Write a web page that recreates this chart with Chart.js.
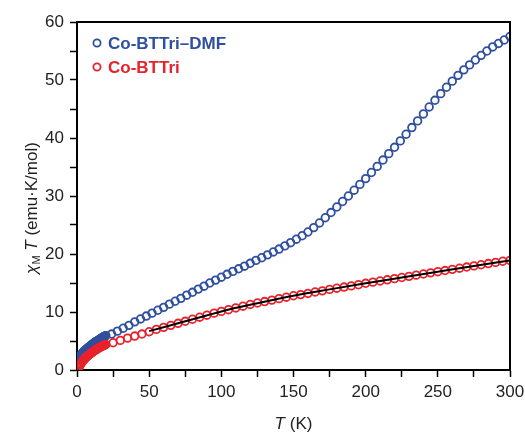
<!DOCTYPE html>
<html>
<head>
<meta charset="utf-8">
<script src="https://cdn.jsdelivr.net/npm/chart.js@4.4.1/dist/chart.umd.min.js"></script>
<style>
	html, body { margin: 0; padding: 0; background: #fff; }
	#wrap { width: 525px; height: 436px; }
</style>
</head>
<body>
<div id="wrap"><canvas id="mycanvas" width="525" height="436"></canvas></div>
<script>
// Co-BTTri-DMF: temperature (K) and chi_M T (emu K/mol)
var dmfTemps = [2, 2.5, 3, 3.5, 4, 4.5, 5, 5.5, 6, 6.5, 7, 7.5, 8, 8.5, 9, 9.5, 10, 10.5, 11, 11.5,
	12, 12.5, 13, 13.5, 14, 14.5, 15, 15.5, 16, 16.5, 17, 17.5, 18, 18.5, 19, 19.5, 20,
	24, 28, 32, 36, 40, 44, 48, 52, 56, 60, 64, 68, 72, 76, 80, 84, 88, 92, 96, 100,
	104, 108, 112, 116, 120, 124, 128, 132, 136, 140, 144, 148, 152, 156, 160, 164, 168, 172, 176, 180,
	184, 188, 192, 196, 200, 204, 208, 212, 216, 220, 224, 228, 232, 236, 240, 244, 248, 252, 256, 260,
	264, 268, 272, 276, 280, 284, 288, 292, 296, 300];
var dmfValues = [2.4, 2.55, 2.7, 2.85, 3.0, 3.12, 3.25, 3.37, 3.5, 3.6, 3.7, 3.8, 3.9, 4.0, 4.1, 4.2, 4.3, 4.4, 4.5, 4.6,
	4.7, 4.78, 4.86, 4.94, 5.02, 5.1, 5.18, 5.26, 5.34, 5.42, 5.5, 5.58, 5.65, 5.72, 5.79, 5.86, 5.93,
	6.2, 6.7, 7.2, 7.7, 8.3, 8.8, 9.3, 9.8, 10.3, 10.8, 11.35, 11.85, 12.35, 12.9, 13.4, 13.95, 14.45, 15.0, 15.5, 16.0,
	16.5, 17.0, 17.45, 17.9, 18.4, 18.9, 19.35, 19.85, 20.35, 20.85, 21.4, 21.95, 22.55, 23.15, 23.8, 24.55, 25.35, 26.25, 27.15, 28.1,
	29.05, 30.0, 31.0, 32.0, 33.0, 34.05, 35.1, 36.2, 37.3, 38.4, 39.5, 40.65, 41.8, 42.95, 44.15, 45.35, 46.5, 47.65, 48.75, 49.8,
	50.8, 51.75, 52.6, 53.45, 54.25, 55.0, 55.7, 56.3, 56.9, 57.5];

// Co-BTTri
var bttriTemps = [1.5, 2, 2.5, 3, 3.5, 4, 4.5, 5, 5.5, 6, 6.5, 7, 7.5, 8, 8.5, 9, 9.5, 10, 10.5, 11, 11.5,
	12, 12.5, 13, 13.5, 14, 14.5, 15, 15.5, 16, 16.5, 17, 17.5, 18, 18.5, 19, 19.5, 20,
	25, 30, 35, 40, 45, 50, 55, 60, 65, 70, 75, 80, 85, 90, 95, 100,
	105, 110, 115, 120, 125, 130, 135, 140, 145, 150, 155, 160, 165, 170, 175, 180,
	185, 190, 195, 200, 205, 210, 215, 220, 225, 230, 235, 240, 245, 250, 255, 260,
	265, 270, 275, 280, 285, 290, 295, 300];
var bttriValues = [0.5, 0.8, 1.0, 1.2, 1.4, 1.55, 1.7, 1.85, 2.0, 2.1, 2.22, 2.34, 2.45, 2.56, 2.66, 2.76, 2.86, 2.96, 3.05, 3.14, 3.23,
	3.32, 3.4, 3.48, 3.56, 3.64, 3.72, 3.8, 3.87, 3.94, 4.0, 4.06, 4.12, 4.18, 4.24, 4.3, 4.35, 4.4,
	4.7, 5.1, 5.5, 5.85, 6.2, 6.6, 7.0, 7.35, 7.7, 8.05, 8.4, 8.75, 9.1, 9.45, 9.8, 10.1,
	10.4, 10.7, 11.0, 11.3, 11.55, 11.8, 12.05, 12.3, 12.55, 12.8, 13.0, 13.2, 13.45, 13.65, 13.9, 14.1,
	14.3, 14.5, 14.7, 14.95, 15.15, 15.35, 15.55, 15.75, 15.95, 16.15, 16.35, 16.55, 16.75, 16.95, 17.15, 17.35,
	17.55, 17.75, 17.95, 18.15, 18.35, 18.55, 18.75, 18.9];

// fit curve through Co-BTTri (50-300 K)
var fitTemps = [50, 75, 100, 125, 150, 175, 200, 225, 250, 275, 300];
var fitValues = [6.7, 8.4, 10.1, 11.5, 12.8, 13.9, 14.95, 15.95, 16.95, 17.95, 18.9];

var seriesNames = ['Co-BTTri\u2013DMF', 'Co-BTTri'];
var xTickLabels = [0, 50, 100, 150, 200, 250, 300];
var yTickLabels = [0, 10, 20, 30, 40, 50, 60];

var blue = '#2f4f9f';
var red = '#e8222b';
var font = "'Liberation Sans', Arial, sans-serif";

function toPoints(xs, ys) {
	var pts = [];
	for (var i in xs) {
		pts.push({ x: xs[i], y: ys[i] });
	}
	return pts;
}

// frame, axis titles and legend
var extras = {
	id: 'extras',
	afterDraw: function (chart) {
		var ctx = chart.ctx;
		var a = chart.chartArea;
		ctx.save();
		ctx.strokeStyle = '#000';
		ctx.lineWidth = 2;
		ctx.beginPath();
		ctx.moveTo(a.left, a.top);
		ctx.lineTo(a.right, a.top);
		ctx.lineTo(a.right, a.bottom);
		ctx.stroke();

		// x title
		ctx.fillStyle = '#222';
		ctx.textBaseline = 'middle';
		var cx = (a.left + a.right) / 2;
		ctx.font = 'italic 17px ' + font;
		var w1 = ctx.measureText('T').width;
		ctx.font = '17px ' + font;
		var w2 = ctx.measureText(' (K)').width;
		var sx = cx - (w1 + w2) / 2;
		ctx.textAlign = 'left';
		ctx.font = 'italic 17px ' + font;
		ctx.fillText('T', sx, 424);
		ctx.font = '17px ' + font;
		ctx.fillText(' (K)', sx + w1, 424);

		// y title, rotated
		ctx.save();
		ctx.translate(32, 208);
		ctx.rotate(-Math.PI / 2);
		var parts = [
			{ t: '\u03c7', f: 'italic 17px ' + font, dy: 0 },
			{ t: 'M', f: '11px ' + font, dy: 5 },
			{ t: ' ', f: '17px ' + font, dy: 0 },
			{ t: 'T', f: 'italic 17px ' + font, dy: 0 },
			{ t: ' (emu\u00b7K/mol)', f: '17px ' + font, dy: 0 }
		];
		var total = 0;
		for (var i in parts) {
			ctx.font = parts[i].f;
			parts[i].w = ctx.measureText(parts[i].t).width;
			total += parts[i].w;
		}
		var px = -total / 2;
		for (var j in parts) {
			ctx.font = parts[j].f;
			ctx.fillText(parts[j].t, px, parts[j].dy);
			px += parts[j].w;
		}
		ctx.restore();

		// legend
		var colors = [blue, red];
		var ys = [43, 67];
		ctx.lineWidth = 1.8;
		ctx.font = 'bold 17px ' + font;
		for (var k = 0; k < 2; k++) {
			ctx.strokeStyle = colors[k];
			ctx.beginPath();
			ctx.arc(97, ys[k], 3.6, 0, Math.PI * 2);
			ctx.stroke();
			ctx.fillStyle = colors[k];
			ctx.fillText(seriesNames[k], 108, ys[k] + 1);
		}
		ctx.restore();
	}
};

var chartdata = {
	datasets: [
		{
			label: 'fit',
			data: toPoints(fitTemps, fitValues),
			borderColor: '#000',
			borderWidth: 2,
			pointRadius: 0,
			showLine: true,
			fill: false,
			cubicInterpolationMode: 'monotone'
		},
		{
			label: seriesNames[1],
			data: toPoints(bttriTemps, bttriValues),
			borderColor: red,
			backgroundColor: 'rgba(0,0,0,0)',
			pointRadius: 3.8,
			pointBorderWidth: 1.8,
			showLine: false
		},
		{
			label: seriesNames[0],
			data: toPoints(dmfTemps, dmfValues),
			borderColor: blue,
			backgroundColor: 'rgba(0,0,0,0)',
			pointRadius: 3.8,
			pointBorderWidth: 1.8,
			showLine: false
		}
	]
};

var ctx = document.getElementById('mycanvas');

var scatter = new Chart(ctx, {
	type: 'scatter',
	data: chartdata,
	plugins: [extras],
	options: {
		responsive: false,
		animation: false,
		layout: { padding: { top: 22, right: 15, left: 0, bottom: 0 } },
		plugins: {
			legend: { display: false },
			tooltip: { enabled: false }
		},
		scales: {
			x: {
				type: 'linear',
				min: 0,
				max: 300,
				border: { color: '#000', width: 2 },
				grid: { drawOnChartArea: false, drawTicks: true, tickLength: 7, tickColor: '#000', tickWidth: 1.5 },
				ticks: {
					stepSize: 25,
					padding: 5,
					color: '#222',
					font: { family: font, size: 17 },
					maxRotation: 0,
					autoSkip: false,
					callback: function (v) { return xTickLabels.indexOf(v) >= 0 ? v : ''; }
				},
				afterFit: function (scale) {
					scale.height = 66;
					// let the 300 label run into the right margin
					scale.paddingRight = 0;
					scale.paddingLeft = 0;
				}
			},
			y: {
				type: 'linear',
				min: 0,
				max: 60,
				border: { color: '#000', width: 2 },
				grid: { drawOnChartArea: false, drawTicks: true, tickLength: 7, tickColor: '#000', tickWidth: 1.5 },
				ticks: {
					stepSize: 5,
					padding: 6,
					color: '#222',
					font: { family: font, size: 17 },
					autoSkip: false,
					callback: function (v) { return yTickLabels.indexOf(v) >= 0 ? v : ''; }
				},
				afterFit: function (scale) { scale.width = 77; }
			}
		}
	}
});
</script>
</body>
</html>
